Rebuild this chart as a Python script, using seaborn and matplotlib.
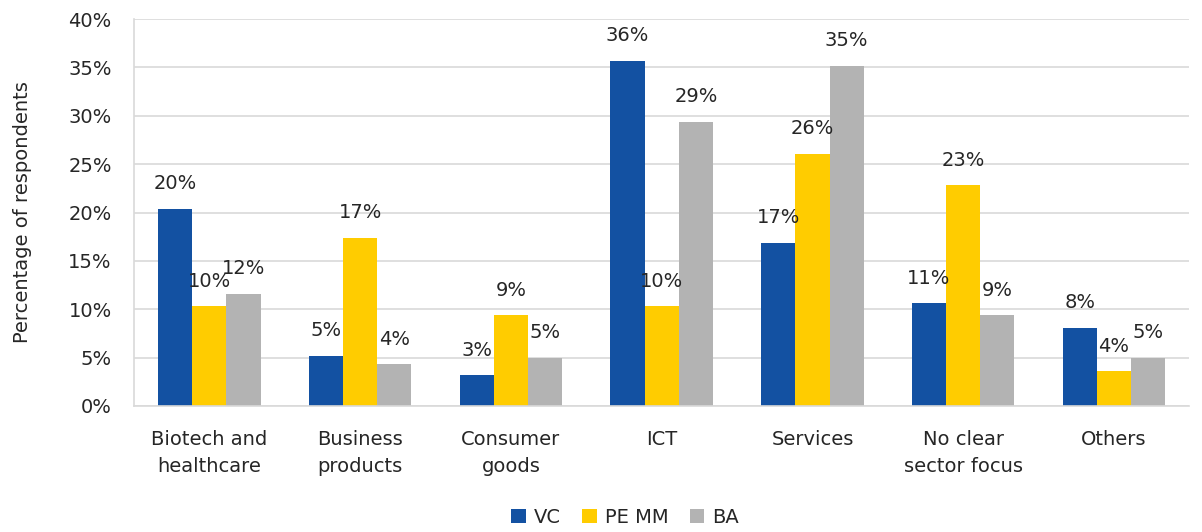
import matplotlib
matplotlib.use("Agg")
import matplotlib.pyplot as plt
import seaborn as sns
import pandas as pd

categories = ["Biotech and\nhealthcare", "Business\nproducts", "Consumer\ngoods", "ICT",
              "Services", "No clear\nsector focus", "Others"]
vc = [20.4, 5.2, 3.2, 35.7, 16.9, 10.6, 8.1]
pe_mm = [10.3, 17.4, 9.4, 10.3, 26.1, 22.8, 3.6]
ba = [11.6, 4.3, 5.0, 29.4, 35.2, 9.4, 5.0]
series = ["VC", "PE MM", "BA"]
colors = ["#1351A2", "#FFCC00", "#B3B3B3"]

rows = []
for name, vals in zip(series, [vc, pe_mm, ba]):
    for c, v in zip(categories, vals):
        rows.append({"sector": c, "group": name, "value": v})
df = pd.DataFrame(rows)

sns.set_style("white")
plt.rcParams["font.family"] = ["DejaVu Sans"]

fig = plt.figure(figsize=(12.02, 5.32), dpi=100)
ax = fig.add_axes([0.1115, 0.237, 0.878, 0.727])

sns.barplot(data=df, x="sector", y="value", hue="group", palette=colors,
            width=0.68, gap=0, saturation=1, linewidth=0, ax=ax, legend=True)

for cont in ax.containers:
    labels = [f"{round(b.get_height()):.0f}%" for b in cont]
    ax.bar_label(cont, labels=labels, padding=11, fontsize=14, color="#262626")

ax.set_ylim(0, 40)
ax.set_yticks(range(0, 41, 5))
ax.set_yticklabels([f"{t}%" for t in range(0, 41, 5)], fontsize=14, color="#262626")
ax.tick_params(axis="x", labelsize=14, labelcolor="#262626", length=0, pad=17)
ax.tick_params(axis="y", length=0, pad=16)
for t in ax.get_xticklabels():
    t.set_linespacing(1.55)
ax.set_xlabel("")
ax.set_ylabel("Percentage of respondents", fontsize=14, color="#262626", labelpad=26)
ax.yaxis.grid(True, color="#D9D9D9", linewidth=1.2)
ax.set_axisbelow(True)
for s in ["top", "right"]:
    ax.spines[s].set_visible(False)
for s in ["left", "bottom"]:
    ax.spines[s].set_color("#D9D9D9")
    ax.spines[s].set_linewidth(1.2)
ax.set_xlim(-0.5, 6.5)

handles, labs = ax.get_legend_handles_labels()
ax.get_legend().remove()
fig.legend(handles, labs, loc="center", bbox_to_anchor=(0.52, 0.028), ncol=3, frameon=False,
           fontsize=14, handlelength=0.75, handleheight=0.75, handletextpad=0.4,
           columnspacing=1.1, borderaxespad=0, borderpad=0)

fig.savefig("out.png", dpi=100)
